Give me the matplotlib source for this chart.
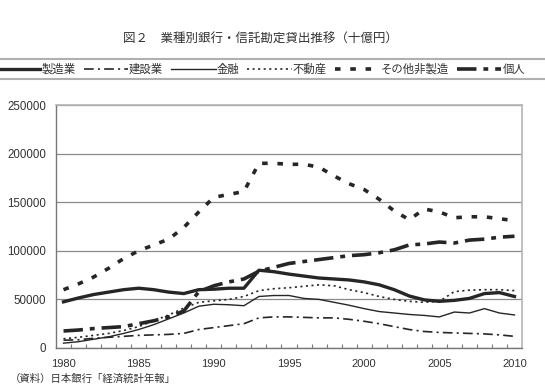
import numpy as np
import matplotlib
matplotlib.use('Agg')
import matplotlib.pyplot as plt
from matplotlib.lines import Line2D

plt.rcParams['font.family'] = ['Liberation Sans', 'Noto Sans CJK JP', 'DejaVu Sans']
plt.rcParams['lines.scale_dashes'] = False

# データ（十億円）
years = list(range(1980, 2011))
seizou = [47500, 51500, 55000, 57500, 60000, 61500, 60000, 57500, 56000, 60000,
          60500, 61500, 61500, 80000, 78500, 76000, 74000, 72000, 71000, 70000,
          68000, 65000, 60000, 53500, 49500, 48000, 49000, 51000, 56000, 57000, 53000]
kensetsu = [8000, 8500, 10000, 11000, 12000, 13000, 13500, 14000, 15000, 19000,
            21000, 23000, 25000, 31000, 32000, 32000, 31500, 31000, 31000, 29500,
            27500, 25000, 22000, 19000, 17000, 16000, 15500, 15000, 14500, 13500, 12000]
kinyu = [5000, 6500, 9000, 11500, 15000, 19000, 24000, 30000, 36000, 43000,
         45000, 44500, 43500, 53000, 54000, 54000, 51000, 50000, 47000, 44000,
         40500, 37500, 36000, 34500, 33500, 32000, 37000, 36000, 40500, 36000, 34000]
fudousan = [9500, 11000, 13000, 15000, 18000, 22000, 28000, 34000, 41000, 47000,
            48500, 50000, 53000, 59000, 61000, 62000, 63500, 65000, 64000, 60000,
            57000, 53000, 50000, 48000, 47000, 48000, 58000, 59500, 60000, 60000, 59000]
sonota = [60000, 66000, 73000, 82000, 92000, 100000, 106000, 112000, 124000, 140000,
          155000, 158000, 161000, 190000, 190000, 189000, 189000, 186000, 177000, 169000,
          163000, 153000, 141000, 132000, 143000, 140000, 134000, 135000, 135000, 133000, 131000]
kojin = [17500, 18500, 20000, 21000, 22000, 25000, 28000, 32000, 38000, 58000,
         64000, 68000, 71000, 79000, 83000, 87000, 89000, 91000, 93000, 95000,
         96000, 98000, 101000, 106000, 107000, 109000, 108000, 111000, 112000, 114000, 115000]
labels = ['製造業', '建設業', '金融', '不動産', 'その他非製造', '個人']

c = '#262626'
fig = plt.figure(figsize=(5.45, 3.85), dpi=100)
ax = fig.add_axes([56/545, 1-348/385, (522-56)/545, (348-105)/385])

ax.plot(years, seizou, color=c, lw=2.4, solid_joinstyle='round', label=labels[0])
ax.plot(years, kensetsu, color=c, lw=1.2, dashes=(7, 3, 1.5, 3), label=labels[1])
ax.plot(years, kinyu, color=c, lw=1.0, label=labels[2])
ax.plot(years, fudousan, color=c, lw=1.2, dashes=(1.5, 2.5), label=labels[3])
ax.plot(years, sonota, color=c, lw=2.6, dashes=(4, 7), label=labels[4])
ax.plot(years, kojin, color=c, lw=2.6, dashes=(14, 5, 3.5, 5), label=labels[5])

ax.set_xlim(1979.5, 2010.5)
ax.set_ylim(0, 250000)
ax.set_yticks(range(0, 250001, 50000))
ax.set_xticks(range(1980, 2011, 5))
ax.set_xticks(np.arange(1980.5, 2010.5, 1), minor=True)
ax.tick_params(axis='x', which='major', length=0, pad=8, labelsize=8, colors='#333333')
ax.tick_params(axis='x', which='minor', direction='in', length=3, width=0.8, color='#777777')
ax.tick_params(axis='y', length=0, pad=7, labelsize=8.3, colors='#333333')
ax.grid(axis='y', color='#8a8a8a', lw=0.9)
ax.set_axisbelow(True)
for s in ['left', 'bottom']:
    ax.spines[s].set_color('#777777')
    ax.spines[s].set_linewidth(1.0)
for s in ['top', 'right']:
    ax.spines[s].set_color('#b5b5b5')
    ax.spines[s].set_linewidth(1.2)

fig.text(0.478, 1-40/385, '図２　業種別銀行・信託勘定貸出推移（十億円）',
         ha='center', va='center', fontsize=9, color='#333333')

# 凡例（枠は画像の外まで続く）
leg = fig.legend(loc='center', bbox_to_anchor=(0.478, 1-69/385), ncol=6, frameon=False,
                 fontsize=8.2, handlelength=3.9, handletextpad=0.1, columnspacing=0.7,
                 borderaxespad=0)
for t in leg.get_texts():
    t.set_color('#333333')
for yy in (59, 79):
    fig.add_artist(Line2D([0, 1], [1-yy/385, 1-yy/385], transform=fig.transFigure,
                          color='#b0b0b0', lw=1.5))

fig.text(10/545, 1/385, '（資料）日本銀行「経済統計年報」', ha='left', va='bottom',
         fontsize=7.5, color='#333333')

fig.savefig('out.png', dpi=100)
